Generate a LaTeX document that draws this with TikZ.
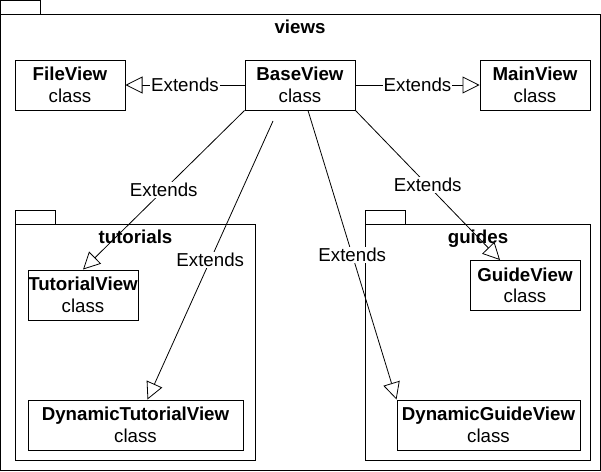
\documentclass[tikz,border=0pt]{standalone}
\usepackage{fontspec}
\setmainfont{Liberation Sans}
\usetikzlibrary{arrows.meta}

\begin{document}
\begin{tikzpicture}[x=1pt, y=-1pt, font=\fontsize{18.7}{21.5}\selectfont, pkg/.style={line width=1pt}, cls/.style={draw, line width=1pt, fill=white, minimum width=110pt, minimum height=50pt, align=center, inner sep=0pt}, ext/.style={line width=0.8pt, -{Triangle[open, length=17pt, width=17pt, fill=white]}}, lbl/.style={fill=white, inner sep=1pt}, title/.style={anchor=base, font=\fontsize{18.7}{21.5}\selectfont\bfseries}]
			\useasboundingbox (0,0) rectangle (601,471);
			\draw[pkg] (0,0) rectangle (40,14);
			\draw[pkg] (0,14) rectangle (600,470);
			\node[title] (views) at (300,33) {views};
			\draw[pkg] (15,210) rectangle (55,224);
			\draw[pkg] (15,224) rectangle (255,460);
			\node[title] (tutorials) at (135.5,243.5) {tutorials};
			\draw[pkg] (365,210) rectangle (405,224);
			\draw[pkg] (365,224) rectangle (590,460);
			\node[title] (guides) at (478,243.5) {guides};
			\node[cls] (file) at (70,85) {\textbf{FileView}\\class};
			\node[cls] (base) at (300,85) {\textbf{BaseView}\\class};
			\node[cls] (main) at (535,85) {\textbf{MainView}\\class};
			\node[cls] (tut) at (83,295) {\textbf{TutorialView}\\class};
			\node[cls, minimum width=215pt] (dyntut) at (135.5,425) {\textbf{DynamicTutorialView}\\class};
			\node[cls] (guide) at (525,285.5) {\textbf{GuideView}\\class};
			\node[cls, minimum width=183pt] (dynguide) at (488.5,425) {\textbf{DynamicGuideView}\\class};
			\coordinate (tail) at (273,121);
			\draw[ext] (base.west) -- node[lbl] (e1) {Extends} (file.east);
			\draw[ext] (base.east) -- node[lbl] (e2) {Extends} (main.west);
			\draw[ext] (base.south west) -- node[lbl] (e3) {Extends} (tut.north);
			\draw[ext] (tail) -- node[lbl] (e4) {Extends} ([xshift=12pt]dyntut.north);
			\draw[ext] ([xshift=8pt]base.south) -- node[lbl] (e5) {Extends} (dynguide.north west);
			\draw[ext] (base.south east) -- node[lbl] (e6) {Extends} ([xshift=-25pt]guide.north);
			\end{tikzpicture}
\end{document}
